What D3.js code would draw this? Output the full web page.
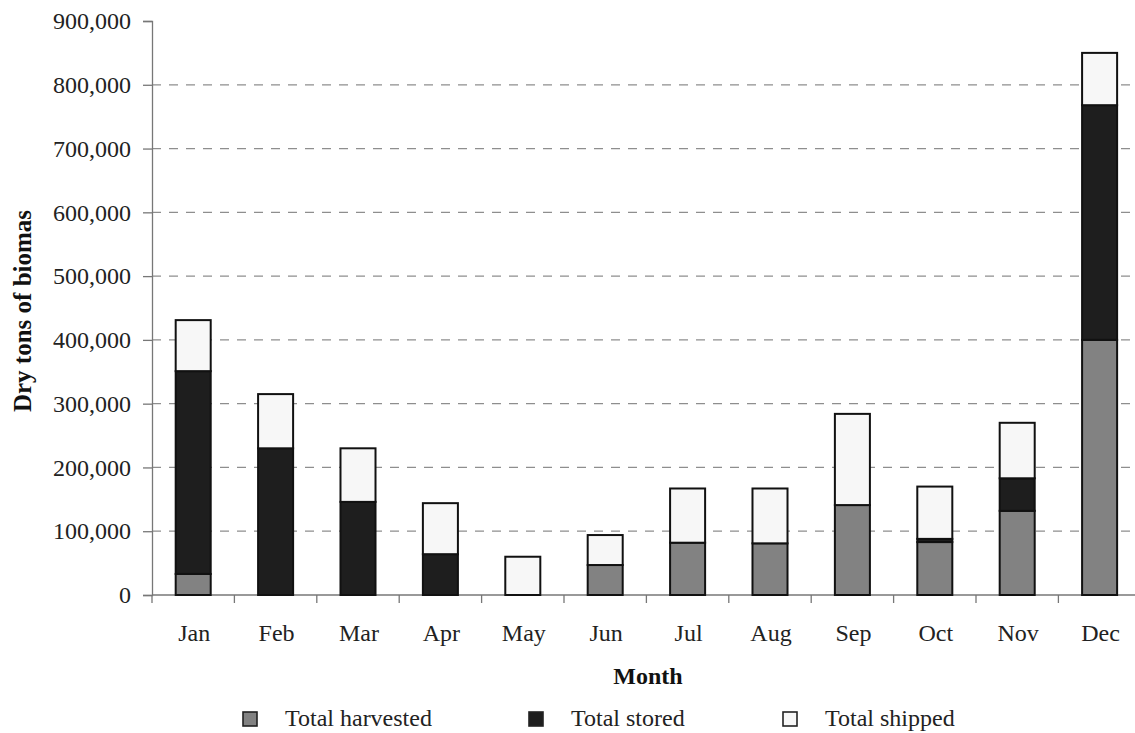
<!DOCTYPE html>
<html>
<head>
<meta charset="utf-8">
<script src="https://cdn.jsdelivr.net/npm/d3@7"></script>
<style>
  html, body { margin: 0; padding: 0; background: #fff; }
  svg { display: block; font-family: "Liberation Serif", "Times New Roman", serif; }
</style>
</head>
<body>
<svg id="chart" width="1135" height="733"></svg>
<script>
// Monthly biomass flows (dry tons)
const months = ["Jan", "Feb", "Mar", "Apr", "May", "Jun", "Jul", "Aug", "Sep", "Oct", "Nov", "Dec"];
const harvested = [33000, 0, 0, 0, 0, 47000, 82000, 81000, 141000, 83000, 132000, 400000];
const stored    = [318000, 230000, 146000, 64000, 0, 0, 0, 0, 0, 5000, 51000, 368000];
const shipped   = [80000, 85000, 84000, 80000, 60000, 47000, 85000, 86000, 143000, 82000, 87000, 82000];
const yTicks = [0, 100000, 200000, 300000, 400000, 500000, 600000, 700000, 800000, 900000];
const seriesNames = ["Total harvested", "Total stored", "Total shipped"];
const seriesKeys = ["harvested", "stored", "shipped"];
const seriesColors = ["#828282", "#1e1e1e", "#f7f7f7"];

const svg = d3.select("#chart");
const margin = { left: 152, top: 21, bottom: 138 };
const plotW = 12 * 82.4;
const plotH = 733 - margin.top - margin.bottom;
const fontSize = 24;

const rows = months.map((m, i) => ({ month: m, harvested: harvested[i], stored: stored[i], shipped: shipped[i] }));
const stack = d3.stack().keys(seriesKeys)(rows);

const x = d3.scaleBand().domain(months).range([margin.left, margin.left + plotW]).paddingInner(0.575).paddingOuter(0.2875);
const y = d3.scaleLinear().domain([0, 900000]).range([margin.top + plotH, margin.top]);

// dashed gridlines
svg.append("g").selectAll("line")
  .data(yTicks.filter(t => t > 0 && t < 900000))
  .join("line")
  .attr("x1", margin.left).attr("x2", margin.left + plotW)
  .attr("y1", d => y(d)).attr("y2", d => y(d))
  .attr("stroke", "#8e8e8e").attr("stroke-width", 1.3)
  .attr("stroke-dasharray", "9,8");

// y axis
const yAxis = d3.axisLeft(y).tickValues(yTicks).tickSize(9).tickPadding(12)
  .tickFormat(d3.format(","));
const gy = svg.append("g").attr("transform", `translate(${margin.left},0)`).call(yAxis);
gy.select(".domain").attr("stroke", "#777").attr("stroke-width", 1.3);
gy.selectAll(".tick line").attr("stroke", "#777").attr("stroke-width", 1.3);
gy.selectAll("text").attr("font-size", fontSize).attr("fill", "#222")
  .attr("font-family", "Liberation Serif, serif");

// x axis: ticks sit between categories
const gx = svg.append("g");
gx.append("line")
  .attr("x1", margin.left).attr("x2", margin.left + plotW)
  .attr("y1", y(0)).attr("y2", y(0))
  .attr("stroke", "#777").attr("stroke-width", 1.3);
gx.selectAll("line.tk")
  .data(d3.range(months.length + 1))
  .join("line").attr("class", "tk")
  .attr("x1", i => margin.left + i * x.step()).attr("x2", i => margin.left + i * x.step())
  .attr("y1", y(0)).attr("y2", y(0) + 8)
  .attr("stroke", "#777").attr("stroke-width", 1.3);
gx.selectAll("text")
  .data(months)
  .join("text")
  .attr("x", d => x(d) + x.bandwidth() / 2 + 1)
  .attr("y", y(0) + 46)
  .attr("text-anchor", "middle")
  .attr("font-size", fontSize).attr("fill", "#222")
  .text(d => d);

// stacked bars
const layers = svg.append("g").selectAll("g")
  .data(stack)
  .join("g")
  .attr("fill", (d, i) => seriesColors[i]);
layers.selectAll("rect")
  .data(d => d.filter(s => s[1] - s[0] > 0))
  .join("rect")
  .attr("x", d => x(d.data.month))
  .attr("width", x.bandwidth())
  .attr("y", d => y(d[1]))
  .attr("height", d => y(d[0]) - y(d[1]))
  .attr("stroke", "#111").attr("stroke-width", 2);

// axis titles
svg.append("text")
  .attr("transform", `translate(31,${311}) rotate(-90)`)
  .attr("text-anchor", "middle")
  .attr("font-size", 25).attr("font-weight", "bold").attr("fill", "#111")
  .text("Dry tons of biomas");
svg.append("text")
  .attr("x", 648).attr("y", 684)
  .attr("text-anchor", "middle")
  .attr("font-size", fontSize).attr("font-weight", "bold").attr("fill", "#111")
  .text("Month");

// legend
const legendX = [285, 571, 825];
const lg = svg.append("g").selectAll("g")
  .data(seriesNames)
  .join("g")
  .attr("transform", (d, i) => `translate(${legendX[i]},0)`);
lg.append("rect")
  .attr("x", -42).attr("y", 712)
  .attr("width", 14).attr("height", 14)
  .attr("fill", (d, i) => seriesColors[i])
  .attr("stroke", "#222").attr("stroke-width", 1.6);
lg.append("text")
  .attr("x", 0).attr("y", 726)
  .attr("font-size", fontSize).attr("fill", "#222")
  .text(d => d);
</script>
</body>
</html>
